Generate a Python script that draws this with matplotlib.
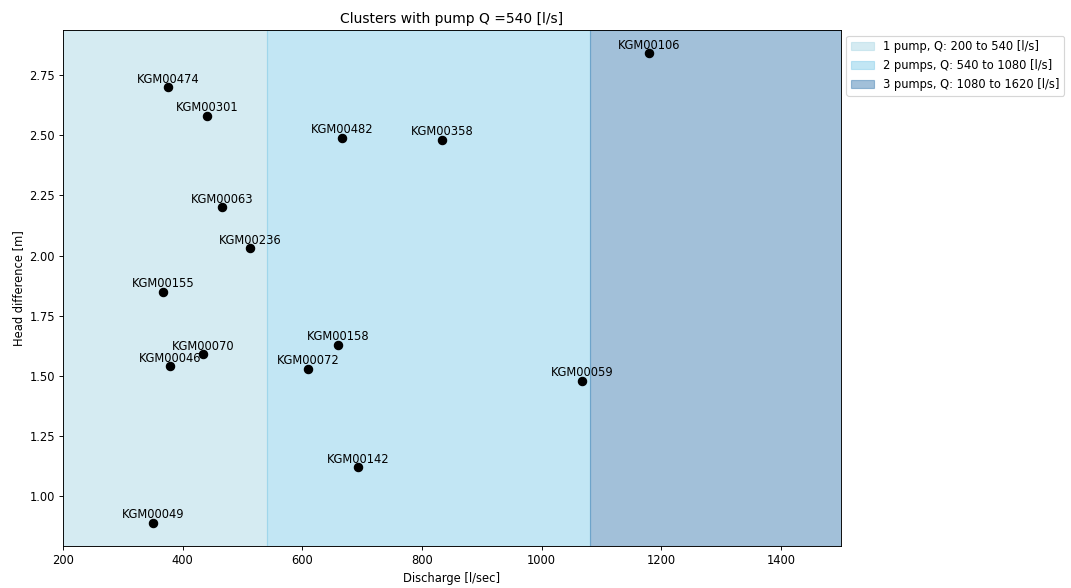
import numpy as np
import matplotlib
matplotlib.use('Agg')
import matplotlib.pyplot as plt

# station data
names = ['KGM00474', 'KGM00301', 'KGM00482', 'KGM00358', 'KGM00106',
         'KGM00063', 'KGM00236', 'KGM00155', 'KGM00158', 'KGM00070',
         'KGM00046', 'KGM00072', 'KGM00059', 'KGM00142', 'KGM00049']
discharge = [375, 441, 666, 833, 1179, 466, 512, 367, 659, 434, 379, 609, 1067, 693, 350]
head = [2.70, 2.58, 2.49, 2.48, 2.84, 2.20, 2.03, 1.85, 1.63, 1.59, 1.54, 1.53, 1.48, 1.12, 0.89]

# pump ranges
pump_q = 540
ranges = [(200, 540), (540, 1080), (1080, 1620)]
range_labels = ['1 pump, Q: 200 to 540 [l/s]', '2 pumps, Q: 540 to 1080 [l/s]',
                '3 pumps, Q: 1080 to 1620 [l/s]']
range_colors = ['lightblue', 'skyblue', 'steelblue']

dpi = 83
fig, ax = plt.subplots(figsize=(1071 / dpi, 588 / dpi), dpi=dpi)
plt.subplots_adjust(left=0.059, right=0.785, top=0.949, bottom=0.071)

for (lo, hi), lab, col in zip(ranges, range_labels, range_colors):
    ax.axvspan(lo, hi, color=col, alpha=0.5, label=lab)

ax.scatter(discharge, head, color='black', s=52)
for n, x, y in zip(names, discharge, head):
    ax.annotate(n, (x, y), xytext=(0, 4), textcoords='offset points', ha='center')

ax.set_xlim(200, 1500)
ax.set_title("Clusters with pump Q =%d [l/s]" % pump_q)
ax.set_xlabel('Discharge [l/sec]')
ax.set_ylabel('Head difference [m]')
ax.legend(loc='upper left', bbox_to_anchor=(1.0, 1))
plt.savefig('out.png', dpi=dpi)
